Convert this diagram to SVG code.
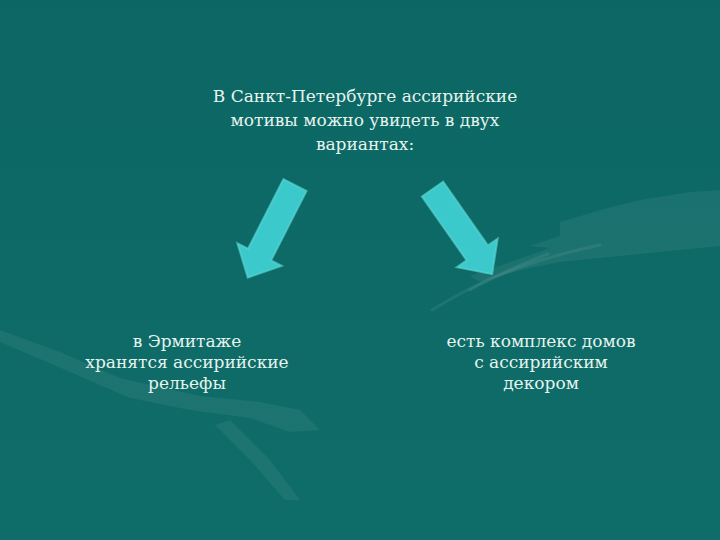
<svg xmlns="http://www.w3.org/2000/svg" width="720" height="540" viewBox="0 0 720 540">
  <defs>
    <style>
      .t { font-family: "DejaVu Serif", "Liberation Serif", serif; font-size: 17px; fill: #e6f4ee; text-anchor: middle; }
      .arrow { fill: #3cc9cb; stroke: #5ed8d6; stroke-width: 2; stroke-opacity: 0.6; stroke-linejoin: miter; }
      .deco { fill: #ffffff; fill-opacity: 0.06; }
      .decol { fill: none; stroke: #ffffff; stroke-opacity: 0.07; stroke-width: 3; stroke-linecap: round; }
    </style>
    <linearGradient id="bg" x1="0" y1="0" x2="0" y2="1">
      <stop offset="0" stop-color="#0c6764"/>
      <stop offset="1" stop-color="#0f6d69"/>
    </linearGradient>
    <polygon id="arr" points="-13,0 13,0 13,78 25,78 0,104 -25,78 -13,78"/>
  </defs>

  <rect x="0" y="0" width="720" height="540" fill="url(#bg)"/>

  <g id="decoration">
    <path class="deco" d="M560,222 L600,210 L640,200 L690,192 L720,190 L720,246 L680,250 L640,254 L600,258 L560,262 L520,270 L480,282 L470,276 L510,262 L550,248 L530,246 L560,236 Z"/>
    <path class="decol" d="M432,310 Q480,280 548,254"/>
    <path class="decol" d="M470,290 Q520,262 600,245"/>
    <path class="deco" d="M0,330 L60,352 L120,378 L200,396 L260,402 L300,410 L320,430 L290,432 L250,418 L190,410 L130,398 L70,372 L0,342 Z"/>
    <path class="deco" fill-opacity="0.04" d="M230,420 L270,460 L300,500 L285,500 L250,460 L215,425 Z"/>
  </g>

  <g id="title">
    <text class="t" x="365" y="102">В Санкт-Петербурге ассирийские</text>
    <text class="t" x="365" y="126">мотивы можно увидеть в двух</text>
    <text class="t" x="365" y="150">вариантах:</text>
  </g>

  <g id="connectors">
    <use href="#arr" class="arrow" transform="translate(295,185) rotate(27)"/>
    <use href="#arr" class="arrow" transform="translate(432.5,189) rotate(-35)"/>
  </g>

  <g id="left-node">
    <text class="t" x="187" y="347">в Эрмитаже</text>
    <text class="t" x="187" y="368">хранятся ассирийские</text>
    <text class="t" x="187" y="389">рельефы</text>
  </g>

  <g id="right-node">
    <text class="t" x="541" y="347">есть комплекс домов</text>
    <text class="t" x="541" y="368">с ассирийским</text>
    <text class="t" x="541" y="389">декором</text>
  </g>
</svg>
